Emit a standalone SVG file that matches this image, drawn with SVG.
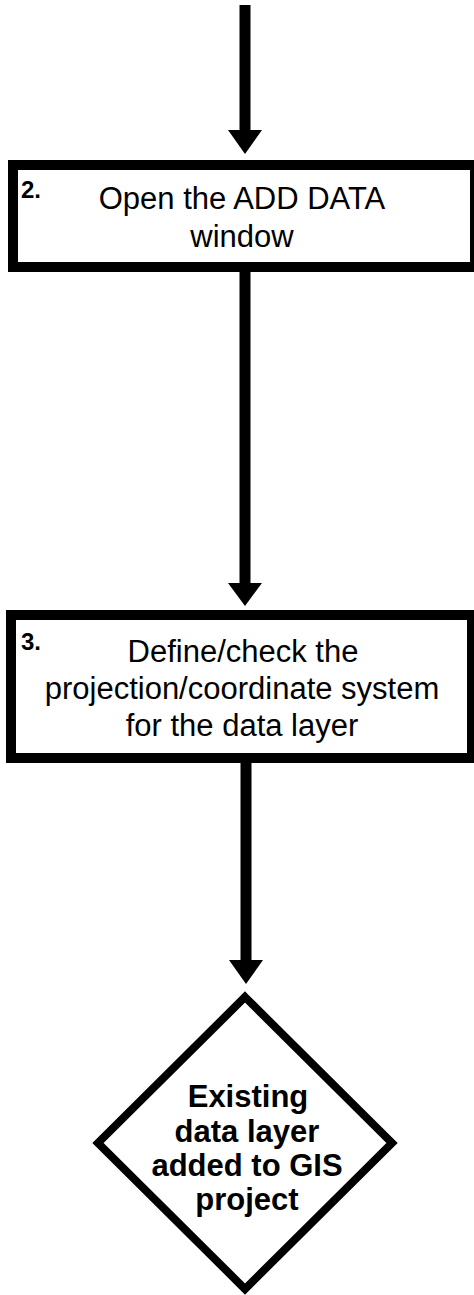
<svg xmlns="http://www.w3.org/2000/svg" width="474" height="1295" viewBox="0 0 474 1295">
<style>
.box{fill:#fff;stroke:#000;stroke-width:10}
.dia{fill:#fff;stroke:#000;stroke-width:8;stroke-linejoin:miter;stroke-miterlimit:10}
.shaft{stroke:#000;stroke-width:11;fill:none}
.head{fill:#000}
.t{font-family:"Liberation Sans",Arial,sans-serif;font-size:31px;fill:#000;text-anchor:middle}
.b{font-weight:bold}
.num{font-family:"Liberation Sans",Arial,sans-serif;font-size:24px;font-weight:bold;fill:#000}
</style>
<rect width="474" height="1295" fill="#fff"/>
<g id="connectors">
<line class="shaft" x1="245" y1="5" x2="245" y2="132"/>
<polygon class="head" points="228,130 262,130 245,154"/>
<line class="shaft" x1="245" y1="270" x2="245" y2="585"/>
<polygon class="head" points="228,583 262,583 245,606"/>
<line class="shaft" x1="246" y1="760" x2="246" y2="962"/>
<polygon class="head" points="229,960 263,960 246,984"/>
</g>
<g id="step2">
<rect class="box" x="13" y="165" width="462" height="102"/>
<text class="num" x="21" y="198">2.</text>
<text class="t" x="242" y="209">Open the ADD DATA</text>
<text class="t" x="242" y="247">window</text>
</g>
<g id="step3">
<rect class="box" x="11" y="615" width="461" height="143"/>
<text class="num" x="21" y="650">3.</text>
<text class="t" x="243" y="662">Define/check the</text>
<text class="t" x="242" y="699">projection/coordinate system</text>
<text class="t" x="242" y="736">for the data layer</text>
</g>
<g id="end">
<polygon class="dia" points="245,997 392,1143 245,1289 98,1143"/>
<text class="t b" x="248" y="1107">Existing</text>
<text class="t b" x="247" y="1142">data layer</text>
<text class="t b" x="247" y="1176">added to GIS</text>
<text class="t b" x="247" y="1210">project</text>
</g>
</svg>
